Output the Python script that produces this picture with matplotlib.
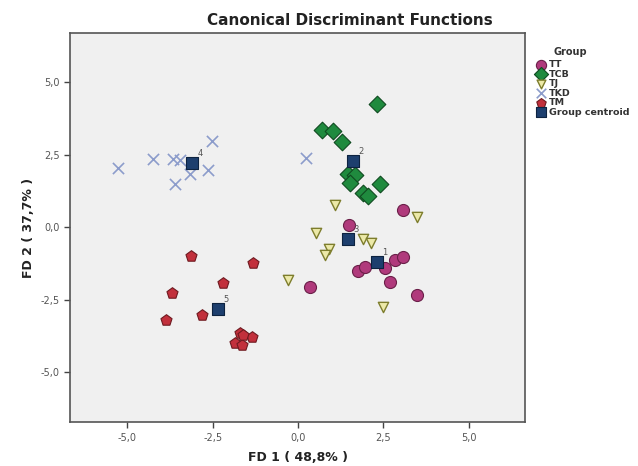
import matplotlib.pyplot as plt
import matplotlib.ticker as ticker

# Group scores on the two discriminant functions.
tt_x = [3.07, 1.49, 2.84, 3.07, 2.54, 1.75, 1.96, 2.69, 0.35, 3.48]
tt_y = [0.59, 0.07, -1.14, -1.03, -1.41, -1.52, -1.38, -1.90, -2.07, -2.34]

tcb_x = [2.31, 0.70, 1.02, 1.29, 1.46, 1.67, 1.52, 1.90, 2.05, 2.40]
tcb_y = [4.24, 3.34, 3.31, 2.93, 1.83, 1.79, 1.52, 1.17, 1.07, 1.48]

tj_x = [1.08, 3.48, 0.53, 1.90, 2.13, 0.91, 0.79, -0.29, 2.48]
tj_y = [0.76, 0.34, -0.21, -0.41, -0.55, -0.76, -0.97, -1.83, -2.76]

tkd_x = [-5.26, -4.24, -3.65, -3.45, -2.51, -2.63, -3.16, -3.60, 0.23]
tkd_y = [2.03, 2.34, 2.34, 2.32, 2.97, 1.97, 1.83, 1.48, 2.38]

tm_x = [-3.13, -1.32, -2.19, -3.68, -2.81, -3.86, -1.70, -1.35, -1.85, -1.65, -1.60]
tm_y = [-1.00, -1.24, -1.93, -2.28, -3.03, -3.21, -3.66, -3.79, -3.98, -4.07, -3.72]

cen_x = [2.31, 1.61, 1.46, -3.10, -2.34]
cen_y = [-1.21, 2.28, -0.41, 2.20, -2.83]
cen_labels = ['1', '2', '3', '4', '5']

ticks = [-5.0, -2.5, 0.0, 2.5, 5.0]

fig = plt.figure(figsize=(6.38, 4.66), dpi=100)
ax = fig.add_axes([0.110, 0.094, 0.713, 0.835])
ax.set_facecolor('#f0f0f0')

ax.scatter(tt_x, tt_y, s=75, marker='o', c='#b03a7c', edgecolors='#6a1f48',
           linewidths=0.8, label='TT', zorder=3)
ax.scatter(tcb_x, tcb_y, s=72, marker='D', c='#1f8a3e', edgecolors='#0f4a20',
           linewidths=0.8, label='TCB', zorder=3)
ax.scatter(tj_x, tj_y, s=55, marker='v', c='#ece9a8', edgecolors='#7d7d2c',
           linewidths=1.0, label='TJ', zorder=3)
ax.scatter(tkd_x, tkd_y, s=65, marker='x', c='#8c9ccb', linewidths=1.2,
           label='TKD', zorder=3)
ax.scatter(tm_x, tm_y, s=70, marker='p', c='#c2303c', edgecolors='#6e1a20',
           linewidths=0.8, label='TM', zorder=3)
ax.scatter(cen_x, cen_y, s=80, marker='s', c='#1d3f6e', edgecolors='#0d2340',
           linewidths=0.8, label='Group centroid', zorder=4)

# Centroid numbers.
for cx, cy, lab in zip(cen_x, cen_y, cen_labels):
    ax.annotate(lab, (cx, cy), xytext=(4, 5), textcoords='offset points',
                fontsize=6, color='#555555', zorder=5)

ax.set_xlim(-6.67, 6.65)
ax.set_ylim(-6.72, 6.69)
ax.xaxis.set_major_locator(ticker.FixedLocator(ticks))
ax.yaxis.set_major_locator(ticker.FixedLocator(ticks))
fmt = ticker.FuncFormatter(lambda v, p: ('%.1f' % v).replace('.', ','))
ax.xaxis.set_major_formatter(fmt)
ax.yaxis.set_major_formatter(fmt)
ax.tick_params(labelsize=7, labelcolor='#555555', color='#444444',
               length=4, width=1)
for sp in ax.spines.values():
    sp.set_color('#555555')
    sp.set_linewidth(1.2)

# Title is centred over plot + legend, as SPSS does it.
fig.text(0.549, 0.957, 'Canonical Discriminant Functions', fontsize=11,
         fontweight='bold', color='#222222', ha='center', va='center')
ax.set_xlabel('FD 1 ( 48,8% )', fontsize=9, fontweight='bold', color='#222222',
              labelpad=6)
ax.set_ylabel('FD 2 ( 37,7% )', fontsize=9, fontweight='bold', color='#222222')

fig.text(553 / 638, 1 - 52 / 466, 'Group', fontsize=7, fontweight='bold',
         color='#333333', ha='left', va='center')
leg = ax.legend(loc='upper left', bbox_to_anchor=(1.026, 0.93), frameon=False,
                fontsize=6.8, handletextpad=0.35, labelspacing=0.05,
                borderaxespad=0.0, borderpad=0.0, handlelength=0.9,
                markerscale=0.85)
for t in leg.get_texts():
    t.set_fontweight('bold')
    t.set_color('#333333')

fig.savefig('out.png', dpi=100)
